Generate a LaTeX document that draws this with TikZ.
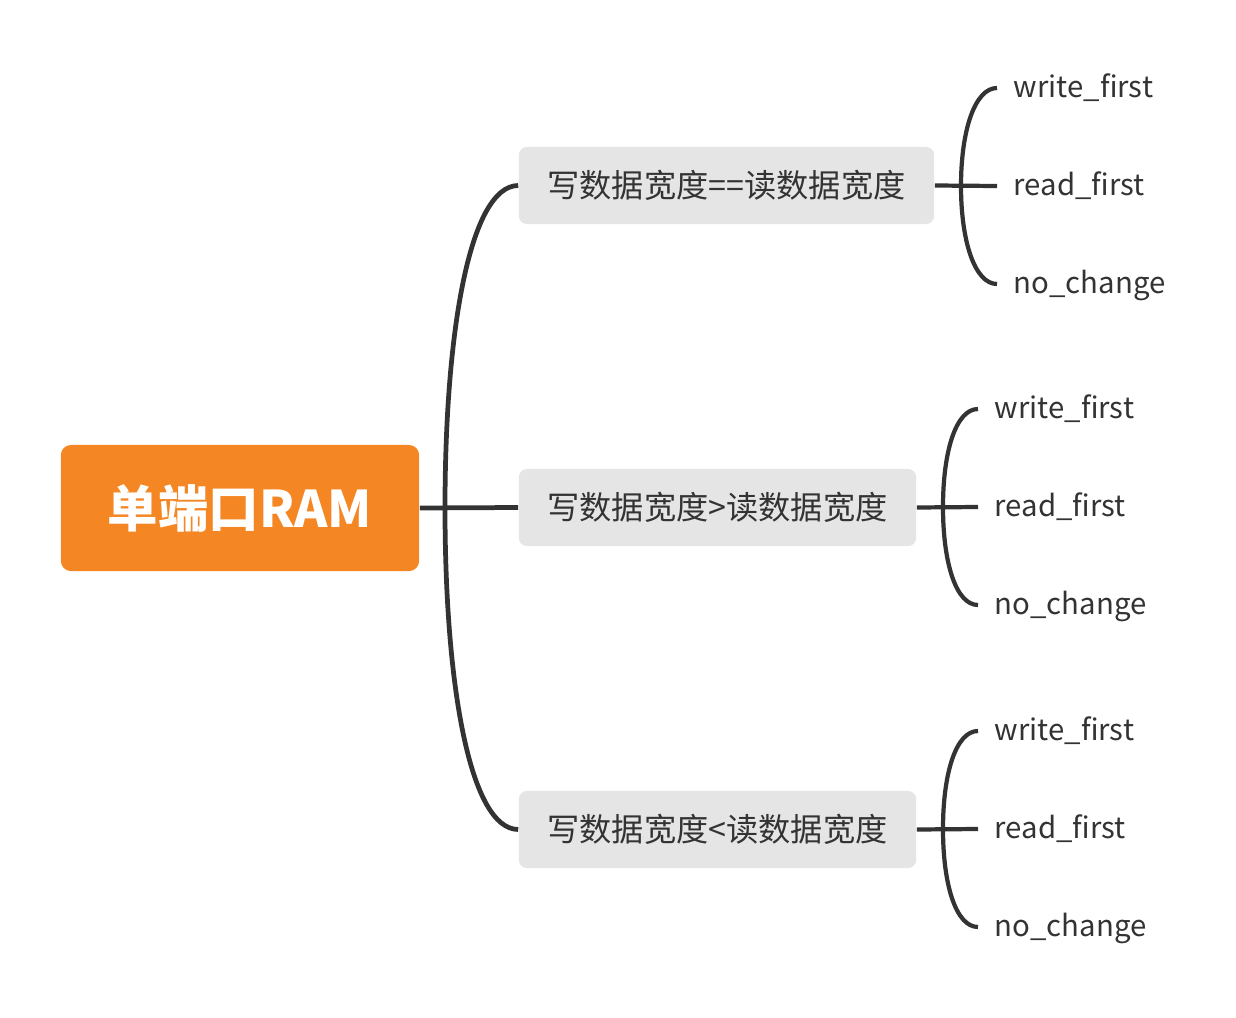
\documentclass[tikz,border=0pt]{standalone}
\usepackage{fontspec}
\setmainfont{Noto Sans CJK SC}
\definecolor{rootorange}{RGB}{245,134,36}
\definecolor{boxgray}{RGB}{229,229,229}
\definecolor{ink}{RGB}{51,51,51}
\begin{document}
\begin{tikzpicture}[x=0.01cm,y=-0.01cm,
  rootbox/.style={fill=rootorange,rounded corners=0.1cm,inner sep=0,
    minimum width=3.58cm,minimum height=1.26cm,text=white,
    font=\fontsize{14.35pt}{16pt}\selectfont\bfseries},
  midbox/.style={fill=boxgray,rounded corners=0.08cm,inner sep=0,
    minimum height=0.77cm,text=ink,font=\fontsize{9.16pt}{11pt}\selectfont},
  leaf/.style={anchor=west,inner xsep=0.16cm,inner ysep=0,text height=0.24cm,
    text depth=0.06cm,text=ink,font=\fontsize{8.35pt}{10pt}\selectfont},
  branch/.style={draw=ink,line width=1.35pt},
  twig/.style={draw=ink,line width=1.2pt}]
\useasboundingbox (0,0) rectangle (1236,1018);
% nodes
\node[rootbox] (root) at (240,508) {单端口RAM};
\node[midbox,minimum width=4.15cm] (b1) at (726.5,185.5) {写数据宽度==读数据宽度};
\node[midbox,minimum width=3.97cm] (b2) at (717.5,507.5) {写数据宽度>读数据宽度};
\node[midbox,minimum width=3.97cm] (b3) at (717.5,829.5) {写数据宽度<读数据宽度};
% leaves
\node[leaf] (l11) at (997,88) {write\_first};
\node[leaf] (l12) at (997,186) {read\_first};
\node[leaf] (l13) at (997,284) {no\_change};
\node[leaf] (l21) at (978,409) {write\_first};
\node[leaf] (l22) at (978,507) {read\_first};
\node[leaf] (l23) at (978,605) {no\_change};
\node[leaf] (l31) at (978,731) {write\_first};
\node[leaf] (l32) at (978,829) {read\_first};
\node[leaf] (l33) at (978,927) {no\_change};
% junctions
\coordinate (j0) at (445,508);
\coordinate (j1) at (961,186);
\coordinate (j2) at (943,507);
\coordinate (j3) at (943,829);
% main branches
\draw[branch] (b1.west) .. controls (470,186) and (445,330) .. (j0)
  .. controls (445,686) and (470,829) .. (b3.west);
\draw[branch] (root.east) -- (b2.west);
% leaf branches
\draw[twig] (l11.west) .. controls (975,88) and (961,130) .. (j1)
  .. controls (961,242) and (975,284) .. (l13.west);
\draw[twig] (b1.east) -- (l12.west);
\draw[twig] (l21.west) .. controls (956,409) and (943,451) .. (j2)
  .. controls (943,563) and (956,605) .. (l23.west);
\draw[twig] (b2.east) -- (l22.west);
\draw[twig] (l31.west) .. controls (956,731) and (943,773) .. (j3)
  .. controls (943,885) and (956,927) .. (l33.west);
\draw[twig] (b3.east) -- (l32.west);
\end{tikzpicture}
\end{document}
